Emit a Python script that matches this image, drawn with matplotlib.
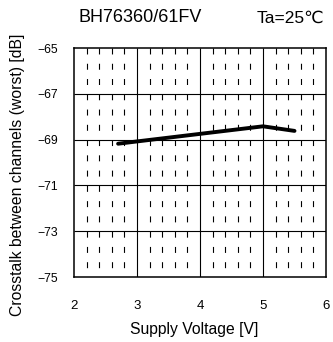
import numpy as np
import matplotlib.pyplot as plt

plt.rcParams['font.family'] = ['Liberation Sans', 'DejaVu Sans']
plt.rcParams['lines.scale_dashes'] = False

# data
voltage = [2.7, 3.0, 4.0, 5.0, 5.5]
crosstalk = [-69.18, -69.08, -68.75, -68.42, -68.62]

xticks = [2, 3, 4, 5, 6]
yticks = [-75, -73, -71, -69, -67, -65]
ytick_labels = ['\u221275', '\u221273', '\u221271', '\u221269', '\u221267', '\u221265']

fig = plt.figure(figsize=(3.33, 3.42), dpi=100)
ax = fig.add_axes([74/333, 1-277/342, 252/333, 229/342])

ax.set_xlim(2, 6)
ax.set_ylim(-75, -65)

# dashed minor verticals every 0.2 V, drawn top -> bottom
minor = np.arange(2.2, 6.0, 0.2)
minor = [m for m in minor if abs(m - round(m)) > 0.05]
for m in minor:
    ax.plot([m, m], [-65, -75], color='black', linewidth=0.8,
            linestyle=(0, (4.3, 6.69)), dash_capstyle='butt')
# solid major grid
ax.vlines([3, 4, 5], -75, -65, colors='black', linewidth=0.8)
ax.hlines([-73, -71, -69, -67], 2, 6, colors='black', linewidth=0.8)

ax.plot(voltage, crosstalk, color='black', linewidth=2.8, solid_capstyle='round')

ax.set_xticks(xticks)
ax.set_yticks(yticks)
ax.set_yticklabels(ytick_labels)
ax.tick_params(axis='both', length=0)
ax.tick_params(axis='x', pad=16.5, labelsize=9.5)
ax.tick_params(axis='y', pad=11.5, labelsize=8.8)
for s in ax.spines.values():
    s.set_linewidth(1.1)

ax.set_xlabel('Supply Voltage [V]', fontsize=11.3)
ax.set_ylabel('Crosstalk between channels (worst) [dB]', fontsize=11.3)
ax.xaxis.set_label_coords(0.476, -0.195)
ax.yaxis.set_label_coords(-0.194, 0.448)

fig.text(140/333, 1-18/342, 'BH76360/61FV', fontsize=13, ha='center', va='center')
fig.text(324/333, 1-18/342, 'Ta=25\u2103', fontsize=12.5, ha='right', va='center')

fig.savefig('out.png', dpi=100)
